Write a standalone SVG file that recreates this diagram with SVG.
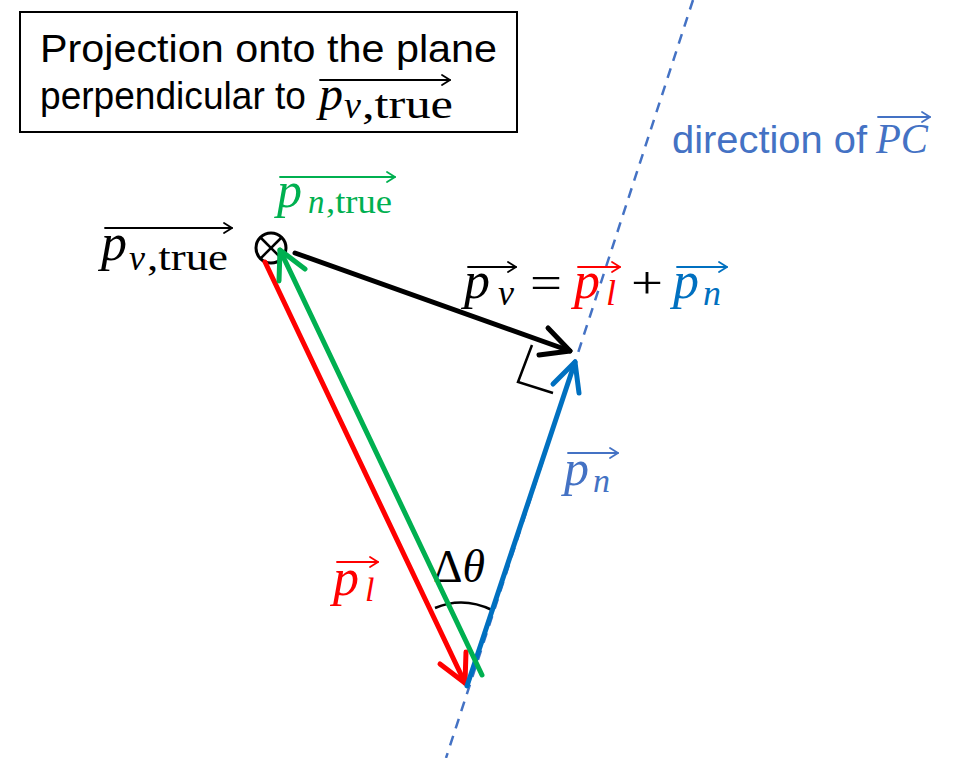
<svg xmlns="http://www.w3.org/2000/svg" width="955" height="758" viewBox="0 0 955 758">
<style>
.sans{font-family:"Liberation Sans","Open Sans",sans-serif}
.m{font-family:"Liberation Serif","DejaVu Serif",serif;font-style:italic}
.r{font-family:"Liberation Serif","DejaVu Serif",serif;font-style:normal}
.vec{fill:none;stroke-width:5;stroke-linecap:round;stroke-linejoin:round}
.ov{fill:none;stroke-width:1.8;stroke-linecap:round;stroke-linejoin:round}
.k{stroke:#000}.rd{stroke:#FF0000}.gr{stroke:#00B050}.bl{stroke:#0070C0}.lb{stroke:#4472C4}
</style>
<rect width="955" height="758" fill="#fff"/>
<g id="pc-line">
<line x1="693" y1="0" x2="446" y2="758" stroke="#4472C4" stroke-width="2.5" stroke-dasharray="10,8"/>
</g>
<g id="title">
<rect x="20" y="12" width="497" height="120" fill="#fff" stroke="#000" stroke-width="2"/>
<text class="sans" x="40" y="62" font-size="38" textLength="457" lengthAdjust="spacingAndGlyphs">Projection onto the plane</text>
<text class="sans" x="40" y="109" font-size="39" textLength="266" lengthAdjust="spacingAndGlyphs">perpendicular to</text>
<text class="m" x="319" y="110" font-size="48">p</text>
<text class="m" x="344" y="118" font-size="38">ν</text>
<text class="r" x="362" y="118" font-size="40" textLength="91" lengthAdjust="spacingAndGlyphs">,true</text>
<polyline class="ov k" points="320,80 450,80"/>
<polyline class="ov k" points="442,75 450,80 442,85"/>
</g>
<g id="direction-label" fill="#4472C4">
<text class="sans" x="672" y="153" font-size="38" textLength="195" lengthAdjust="spacingAndGlyphs">direction of</text>
<text class="m" x="876" y="153" font-size="42" textLength="52" lengthAdjust="spacingAndGlyphs">PC</text>
<polyline class="ov lb" points="878,117 930,117"/>
<polyline class="ov lb" points="922,112 930,117 922,122"/>
</g>
<g id="pnu-true-node">
<circle cx="271" cy="248" r="15" fill="#fff" stroke="#000" stroke-width="3"/>
<line x1="260.5" y1="237.5" x2="281.5" y2="258.5" stroke="#000" stroke-width="2.5"/>
<line x1="281.5" y1="237.5" x2="260.5" y2="258.5" stroke="#000" stroke-width="2.5"/>
<text class="m" x="101" y="260" font-size="52">p</text>
<text class="m" x="129" y="270" font-size="36">ν</text>
<text class="r" x="147" y="270" font-size="37" textLength="81" lengthAdjust="spacingAndGlyphs">,true</text>
<polyline class="ov k" points="105,228 232,228"/>
<polyline class="ov k" points="224,223 232,228 224,233"/>
</g>
<g id="pn-true-label" fill="#00B050">
<text class="m" x="277" y="207" font-size="50">p</text>
<text class="m" x="308" y="213" font-size="33">n</text>
<text class="r" x="326" y="213" font-size="33" textLength="66" lengthAdjust="spacingAndGlyphs">,true</text>
<polyline class="ov gr" points="280,177 395,177"/>
<polyline class="ov gr" points="387,172 395,177 387,182"/>
</g>
<g id="equation">
<text class="m" x="464" y="298" font-size="52">p</text>
<text class="m" x="498" y="305" font-size="36">ν</text>
<polyline class="ov k" points="468,267 516,267"/>
<polyline class="ov k" points="508,262 516,267 508,272"/>
<text class="r" x="530" y="298" font-size="46" textLength="32" lengthAdjust="spacingAndGlyphs">=</text>
<g fill="#FF0000">
<text class="m" x="574" y="298" font-size="52">p</text>
<text class="m" x="606" y="305" font-size="36">l</text>
</g>
<polyline class="ov rd" points="578,267 620,267"/>
<polyline class="ov rd" points="612,262 620,267 612,272"/>
<text class="r" x="631" y="298" font-size="46" textLength="32" lengthAdjust="spacingAndGlyphs">+</text>
<g fill="#0070C0">
<text class="m" x="673" y="298" font-size="52">p</text>
<text class="m" x="703" y="305" font-size="36">n</text>
</g>
<polyline class="ov bl" points="677,267 727,267"/>
<polyline class="ov bl" points="719,262 727,267 719,272"/>
</g>
<g id="pn-label" fill="#4472C4">
<text class="m" x="564" y="485" font-size="50">p</text>
<text class="m" x="593" y="492" font-size="34">n</text>
<polyline class="ov lb" points="568,453 618,453"/>
<polyline class="ov lb" points="610,448 618,453 610,458"/>
</g>
<g id="pl-label" fill="#FF0000">
<text class="m" x="333" y="595" font-size="52">p</text>
<text class="m" x="365" y="601" font-size="34">l</text>
<polyline class="ov rd" points="337,562 378,562"/>
<polyline class="ov rd" points="370,557 378,562 370,567"/>
</g>
<g id="angle">
<path d="M435,608 Q463,596 492,610" fill="none" stroke="#000" stroke-width="2.5"/>
<text x="433" y="582" font-size="46" textLength="52" lengthAdjust="spacingAndGlyphs"><tspan class="r">Δ</tspan><tspan class="m">θ</tspan></text>
</g>
<g id="right-angle">
<polyline points="532,345 518,382 553,393" fill="none" stroke="#000" stroke-width="2.5"/>
</g>
<g id="connectors">
<g id="pl-vector">
<line class="vec rd" x1="265" y1="262" x2="465" y2="683"/>
<polyline class="vec rd" points="440,664 465,683 466,652"/>
</g>
<g id="pn-vector">
<line class="vec bl" x1="467" y1="686" x2="575" y2="362"/>
<polyline class="vec bl" points="553,384 575,362 579,393"/>
</g>
<g id="pn-true-vector">
<line class="vec gr" x1="482" y1="675" x2="280" y2="250"/>
<polyline class="vec gr" points="279,281 280,250 305,269"/>
</g>
<g id="pnu-vector">
<line class="vec k" x1="295" y1="253" x2="570" y2="351"/>
<polyline class="vec k" points="548,328 570,351 539,355"/>
</g>
</g>
</svg>
